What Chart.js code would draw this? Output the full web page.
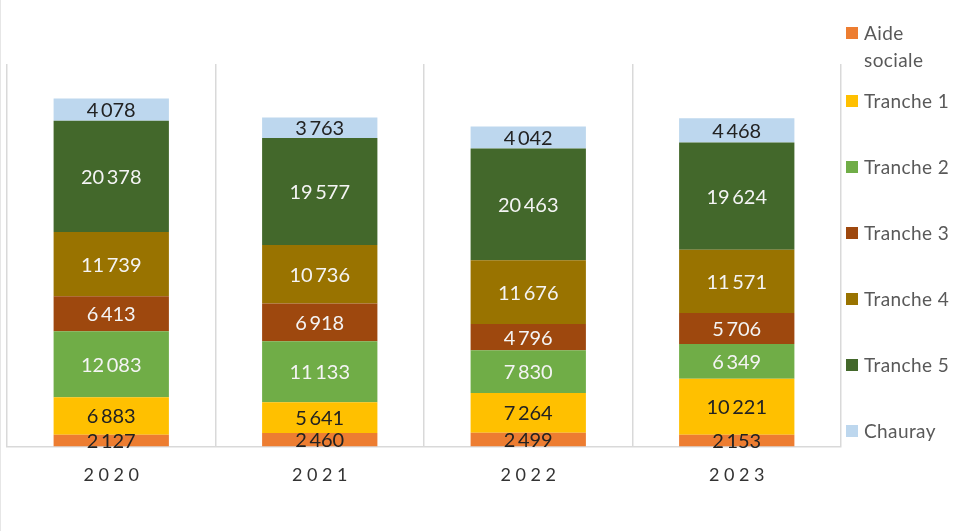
<!DOCTYPE html>
<html>
<head>
<meta charset="utf-8">
<script src="https://cdn.jsdelivr.net/npm/chart.js@4.4.1/dist/chart.umd.min.js"></script>
<style>
  html, body { margin: 0; padding: 0; background: #fff; }
  #wrap { width: 954px; height: 531px; position: relative; box-sizing: border-box; border-left: 1px solid #e6e6e6; }
  #legende { position: absolute; left: 845px; top: 19px; font-family: Lato, "Open Sans", sans-serif; font-size: 19px; letter-spacing: 0.4px; color: #595959; }
  #legende .item { position: relative; height: 66px; line-height: 27px; padding-left: 18px; white-space: nowrap; }
  #legende .item:first-child { height: 68px; }
  #legende .boite { position: absolute; left: 0; top: 8px; width: 12px; height: 12px; }
</style>
</head>
<body>
<div id="wrap"><canvas id="myChart"></canvas><div id="legende"></div></div>
<script>
var annees = ["2020", "2021", "2022", "2023"];
var aideSociale = [2127, 2460, 2499, 2153];
var tranche1 = [6883, 5641, 7264, 10221];
var tranche2 = [12083, 11133, 7830, 6349];
var tranche3 = [6413, 6918, 4796, 5706];
var tranche4 = [11739, 10736, 11676, 11571];
var tranche5 = [20378, 19577, 20463, 19624];
var chauray = [4078, 3763, 4042, 4468];

function formatNombre(v) {
  return String(v).replace(/\B(?=(\d{3})+(?!\d))/g, "\u2009");
}

// etiquettes au milieu de chaque segment
const etiquettes = {
  id: "etiquettes",
  afterDatasetsDraw(chart) {
    const ctx = chart.ctx;
    ctx.save();
    ctx.font = "20px Lato, 'Open Sans', sans-serif";
    ctx.textAlign = "center";
    ctx.textBaseline = "middle";
    chart.data.datasets.forEach((ds, i) => {
      const meta = chart.getDatasetMeta(i);
      meta.data.forEach((bar, j) => {
        const y = (bar.y + bar.base) / 2;
        ctx.fillStyle = ds.labelColor;
        ctx.fillText(formatNombre(ds.data[j]), bar.x, y + 1);
      });
    });
    ctx.restore();
  }
};

const data = {
  labels: annees,
  datasets: [
    { label: "Aide sociale", data: aideSociale, backgroundColor: "#ED7D31", labelColor: "#222" },
    { label: "Tranche 1", data: tranche1, backgroundColor: "#FFC000", labelColor: "#222" },
    { label: "Tranche 2", data: tranche2, backgroundColor: "#70AD47", labelColor: "#f4f4f4" },
    { label: "Tranche 3", data: tranche3, backgroundColor: "#9E480E", labelColor: "#f4f4f4" },
    { label: "Tranche 4", data: tranche4, backgroundColor: "#997300", labelColor: "#f4f4f4" },
    { label: "Tranche 5", data: tranche5, backgroundColor: "#43682B", labelColor: "#f4f4f4" },
    { label: "Chauray", data: chauray, backgroundColor: "#BDD7EE", labelColor: "#222" }
  ]
};

const config = {
  type: "bar",
  data: data,
  options: {
    responsive: true,
    maintainAspectRatio: false,
    animation: false,
    datasets: { bar: { categoryPercentage: 0.553, barPercentage: 1 } },
    layout: { padding: { left: 6, top: 64, right: 113, bottom: 27 } },
    scales: {
      x: {
        stacked: true,
        grid: { offset: true, color: "#d9d9d9", lineWidth: 1.5, drawTicks: false },
        border: { color: "#d9d9d9", width: 1.5 },
        ticks: {
          padding: 18,
          color: "#333",
          font: { family: "Lato, 'Open Sans', sans-serif", size: 18 },
          callback: function (v, i) { return annees[i].split("").join(" "); }
        }
      },
      y: { stacked: true, display: false, min: 0, max: 70000 }
    },
    plugins: {
      tooltip: { enabled: false },
      legend: { display: false }
    }
  },
  plugins: [etiquettes]
};

const chart = new Chart(document.getElementById("myChart"), config);

// legende HTML construite a partir des jeux de donnees
const legende = document.getElementById("legende");
chart.data.datasets.forEach((ds) => {
  const item = document.createElement("div");
  item.className = "item";
  const boite = document.createElement("span");
  boite.className = "boite";
  boite.style.background = ds.backgroundColor;
  item.appendChild(boite);
  const mots = ds.label.split(" ");
  item.appendChild(document.createTextNode(ds.label === "Aide sociale" ? mots[0] : ds.label));
  if (ds.label === "Aide sociale") {
    item.appendChild(document.createElement("br"));
    item.appendChild(document.createTextNode(mots[1]));
  }
  legende.appendChild(item);
});
</script>
</body>
</html>
